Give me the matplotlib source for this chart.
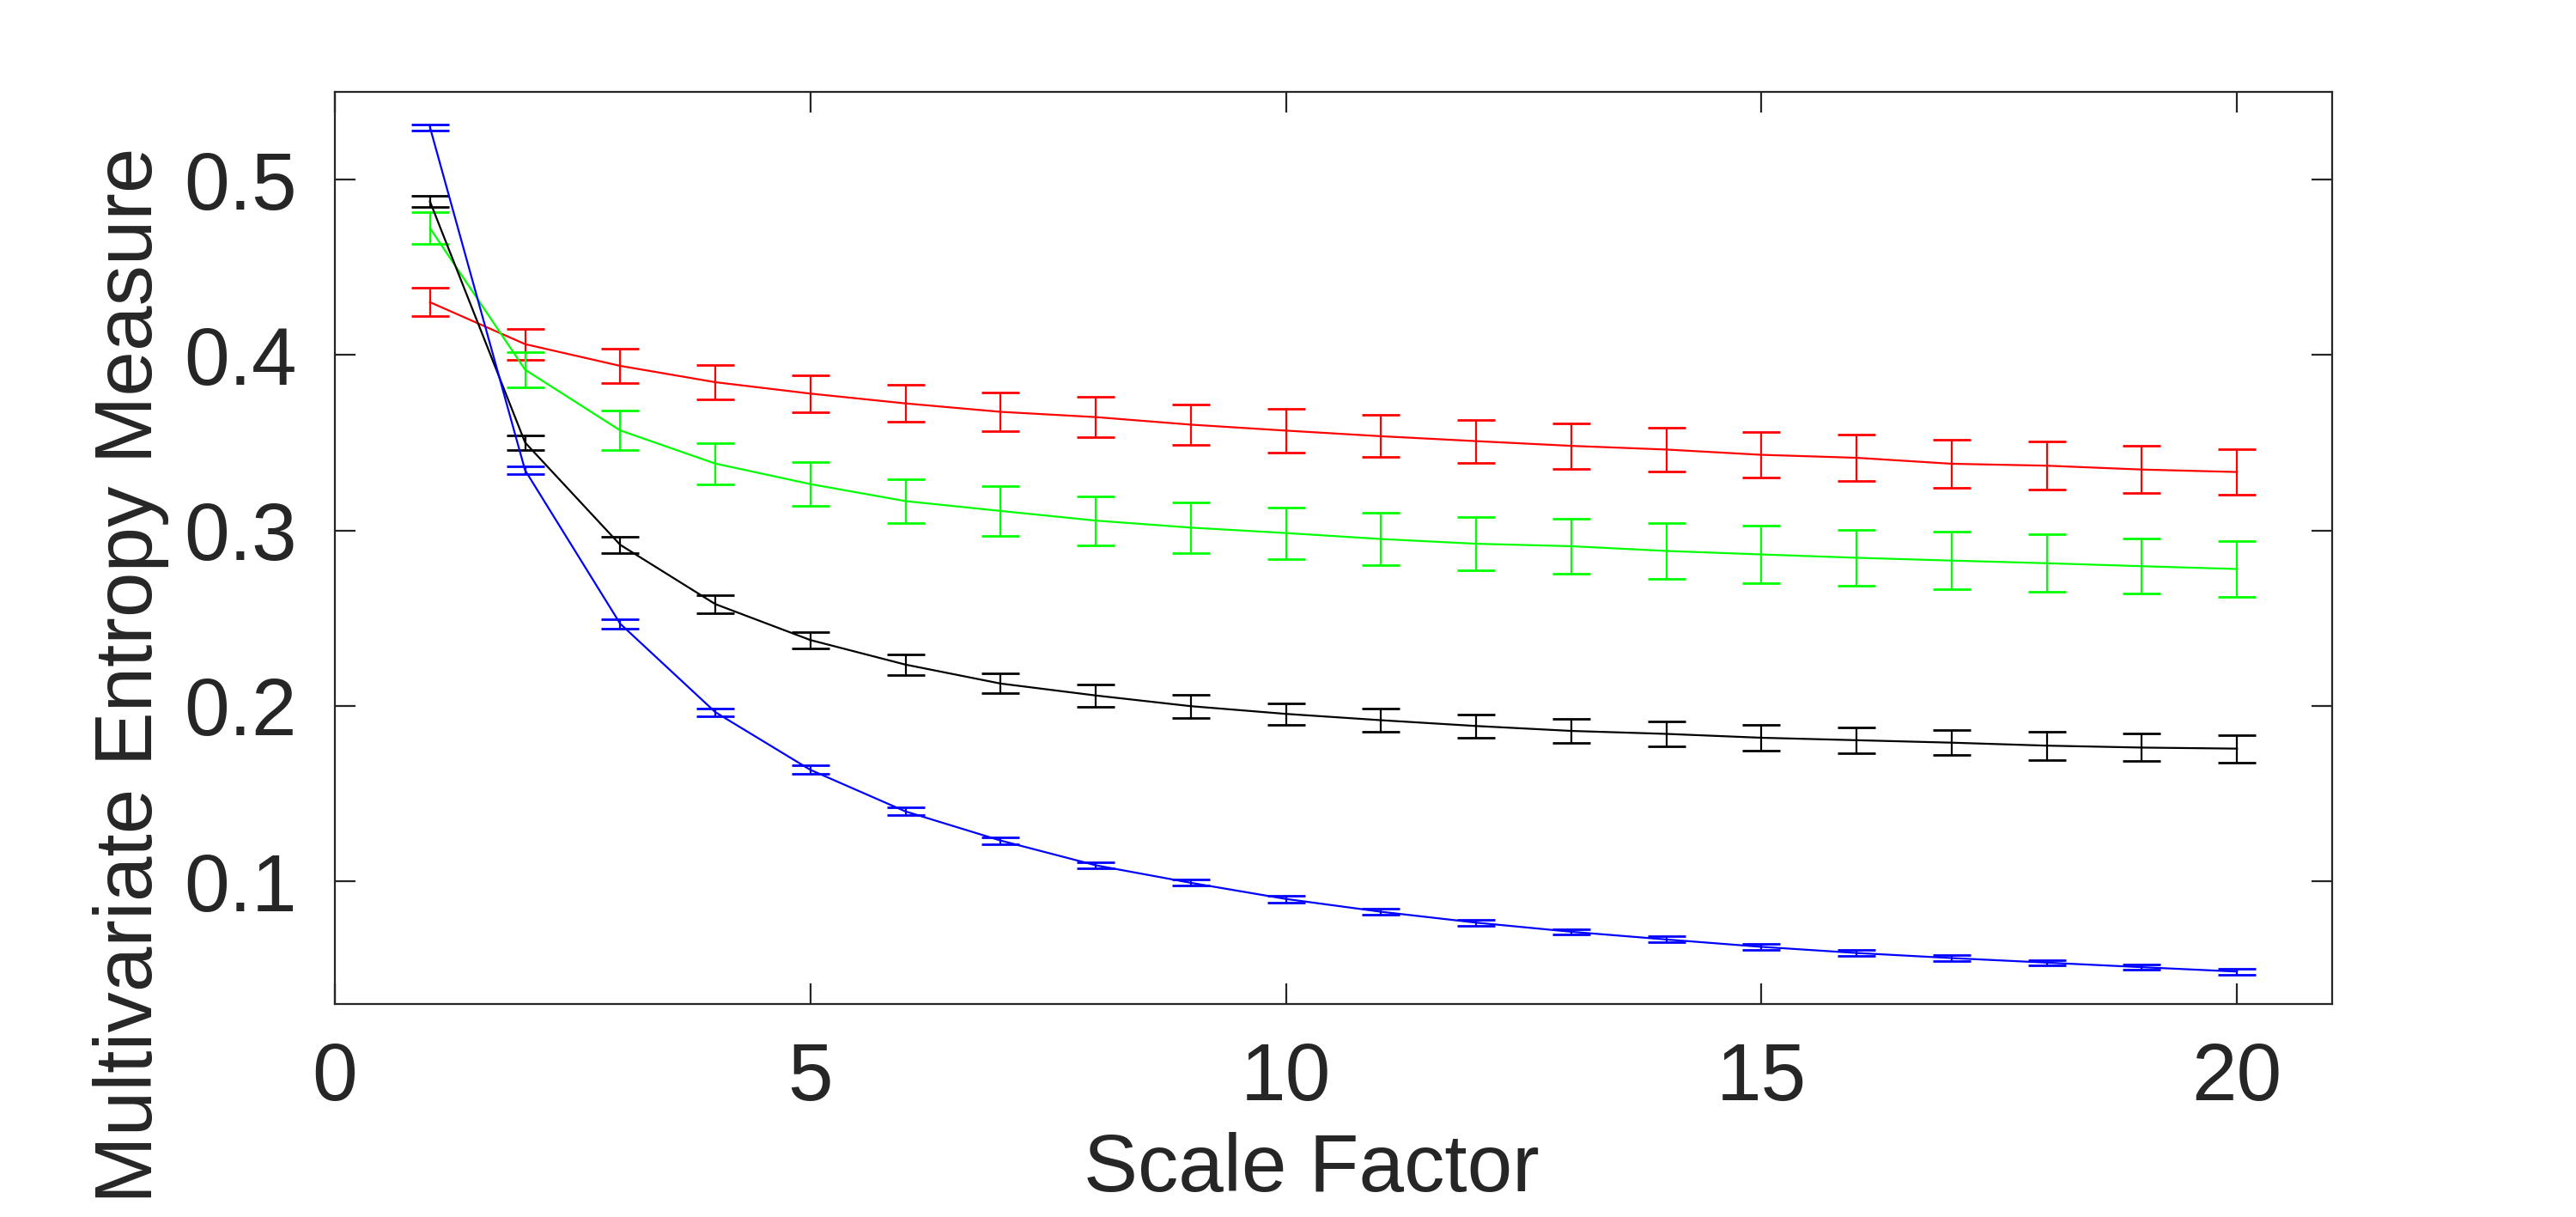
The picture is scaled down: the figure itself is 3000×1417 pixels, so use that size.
import matplotlib
matplotlib.use("Agg")
import matplotlib.pyplot as plt
import numpy as np

scale_factor = list(range(1, 21))

red_mean = [0.4301, 0.4062, 0.3938, 0.3845, 0.3780, 0.3724, 0.3676, 0.3646, 0.3603, 0.3569,
            0.3537, 0.3509, 0.3482, 0.3461, 0.3431, 0.3414, 0.3380, 0.3369, 0.3347, 0.3333]
red_err = [0.0081, 0.0089, 0.0096, 0.0100, 0.0104, 0.0104, 0.0109, 0.0114, 0.0116, 0.0126,
           0.0120, 0.0122, 0.0130, 0.0125, 0.0131, 0.0134, 0.0136, 0.0136, 0.0136, 0.0131]

green_mean = [0.4723, 0.3916, 0.3570, 0.3381, 0.3264, 0.3167, 0.3111, 0.3056, 0.3016, 0.2985,
              0.2951, 0.2924, 0.2910, 0.2883, 0.2863, 0.2844, 0.2828, 0.2813, 0.2796, 0.2780]
green_err = [0.0091, 0.0099, 0.0113, 0.0118, 0.0125, 0.0127, 0.0143, 0.0140, 0.0143, 0.0147,
             0.0150, 0.0152, 0.0156, 0.0160, 0.0162, 0.0157, 0.0165, 0.0163, 0.0157, 0.0161]

black_mean = [0.4875, 0.3501, 0.2918, 0.2580, 0.2375, 0.2235, 0.2127, 0.2059, 0.1998, 0.1954,
              0.1918, 0.1885, 0.1857, 0.1840, 0.1818, 0.1804, 0.1790, 0.1773, 0.1762, 0.1756]
black_err = [0.0031, 0.0041, 0.0045, 0.0050, 0.0046, 0.0059, 0.0056, 0.0064, 0.0066, 0.0062,
             0.0068, 0.0066, 0.0070, 0.0073, 0.0072, 0.0073, 0.0072, 0.0080, 0.0078, 0.0078]

blue_mean = [0.5298, 0.3343, 0.2468, 0.1964, 0.1635, 0.1398, 0.1232, 0.1091, 0.0991, 0.0899,
             0.0826, 0.0764, 0.0712, 0.0668, 0.0626, 0.0591, 0.0562, 0.0536, 0.0510, 0.0485]
blue_err = [0.0017, 0.0024, 0.0026, 0.0022, 0.0024, 0.0021, 0.0020, 0.0019, 0.0017, 0.0020,
            0.0016, 0.0017, 0.0016, 0.0017, 0.0015, 0.0016, 0.0016, 0.0016, 0.0016, 0.0017]

x_ticks = [0, 5, 10, 15, 20]
y_ticks = [0.1, 0.2, 0.3, 0.4, 0.5]

plt.rcParams['font.family'] = ['Liberation Sans', 'DejaVu Sans']

fig = plt.figure(figsize=(15, 7.085), dpi=200)
ax = fig.add_axes([0.13, 0.175, 0.7753, 0.7495])

series = [
    (red_mean, red_err, '#ff0000'),
    (green_mean, green_err, '#00ff00'),
    (black_mean, black_err, '#000000'),
    (blue_mean, blue_err, '#0000ff'),
]
for mean, err, col in series:
    ax.errorbar(scale_factor, mean, yerr=err, color=col, linewidth=0.8,
                elinewidth=0.8, capsize=7.9, capthick=1.0)

ax.set_xlim(0, 21)
ax.set_ylim(0.03, 0.55)
ax.set_xticks(x_ticks)
ax.set_yticks(y_ticks)
ax.set_yticklabels([f"{v:.1f}" for v in y_ticks])

edge = '#262626'
for s in ax.spines.values():
    s.set_color(edge)
    s.set_linewidth(0.8)
ax.tick_params(axis='both', direction='in', length=8.6, width=0.8, color=edge,
               labelcolor=edge, labelsize=34, top=True, right=True)
ax.tick_params(axis='x', pad=15.5)
ax.tick_params(axis='y', pad=16)

ax.set_xlabel('Scale Factor', fontsize=34, color=edge, labelpad=6, x=0.489)
ax.set_ylabel('Multivariate Entropy Measure', fontsize=34, color=edge, labelpad=6, y=0.36)

fig.savefig('out.png', dpi=200, facecolor='white')
